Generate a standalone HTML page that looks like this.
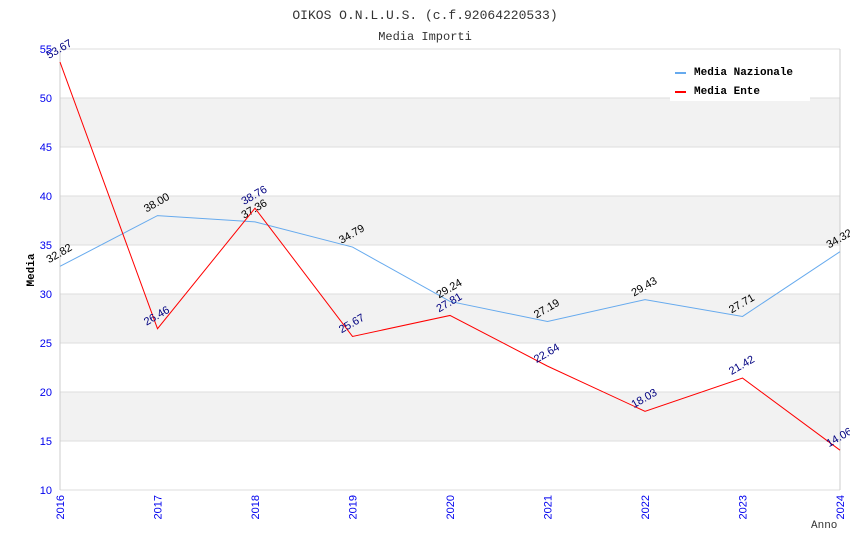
<!DOCTYPE html>
<html><head><meta charset="utf-8"><style>body{margin:0;background:#fff}svg{display:block}</style></head>
<body>
<svg id="c" width="850" height="550" xmlns="http://www.w3.org/2000/svg">
<text x="425" y="19" text-anchor="middle" font-family="Liberation Mono, monospace" font-size="13" fill="#333">OIKOS O.N.L.U.S. (c.f.92064220533)</text>
<text x="425" y="40" text-anchor="middle" font-family="Liberation Mono, monospace" font-size="12" fill="#333">Media Importi</text>
<g id="grid"></g>
<g id="axes"></g>
<g id="series"></g>
<g>
<rect x="670" y="59" width="140" height="42" fill="#fff"/>
<rect x="675" y="72" width="11" height="2" fill="#66aaee"/>
<text x="694" y="75" font-family="Liberation Mono, monospace" font-weight="bold" font-size="11">Media Nazionale</text>
<rect x="675" y="91" width="11" height="2" fill="#ff0000"/>
<text x="694" y="94" font-family="Liberation Mono, monospace" font-weight="bold" font-size="11">Media Ente</text>
</g>
<text x="34" y="270" transform="rotate(-90 34 270)" text-anchor="middle" font-family="Liberation Mono, monospace" font-weight="bold" font-size="11">Media</text>
<text x="811" y="528" font-family="Liberation Mono, monospace" font-size="11" fill="#333">Anno</text>
</svg>
<script>
const years=[2016,2017,2018,2019,2020,2021,2022,2023,2024];
const nazionale=[32.82,38.00,37.36,34.79,29.24,27.19,29.43,27.71,34.32];
const ente=[53.67,26.46,38.76,25.67,27.81,22.64,18.03,21.42,14.06];
const yTicks=[10,15,20,25,30,35,40,45,50,55];
const L=60,R=840,T=49,B=490,ymin=10,ymax=55;
const NS='http://www.w3.org/2000/svg';
const X=i=>L+(R-L)*i/(years.length-1);
const Y=v=>B-(v-ymin)/(ymax-ymin)*(B-T);
function mk(p,tag,a){const e=document.createElementNS(NS,tag);for(const k in a)e.setAttribute(k,a[k]);p.appendChild(e);return e;}
const g=document.getElementById('grid'),ax=document.getElementById('axes'),s=document.getElementById('series');
for(let i=0;i<yTicks.length-1;i++){
 if(i%2===1){const r=mk(g,'rect',{x:L,y:Y(yTicks[i+1]),width:R-L,height:Y(yTicks[i])-Y(yTicks[i+1]),fill:'#f2f2f2'});
 
 }
}
yTicks.forEach(v=>{
 const l=mk(g,'line',{x1:L,x2:R,y1:Y(v),y2:Y(v),stroke:'#dddddd'});
 
 
 const t=mk(ax,'text',{x:L-8,y:Y(v)+4,'text-anchor':'end','font-family':'Liberation Sans, sans-serif','font-size':'11',fill:'#0000ee'});
 t.textContent=v;
 
 
});
mk(ax,'line',{x1:L,x2:L,y1:T,y2:B,stroke:'#ccc'});
mk(ax,'line',{x1:R,x2:R,y1:T,y2:B,stroke:'#ccc'});
years.forEach((y,i)=>{
 const t=mk(ax,'text',{x:X(i)+4,y:B+5,transform:`rotate(-90 ${X(i)+4} ${B+5})`,'text-anchor':'end','font-family':'Liberation Sans, sans-serif','font-size':'11',fill:'#0000ee'});
 t.textContent=y;
 
 
});
function series(d,col,lc,name){
 const p=mk(s,'polyline',{points:d.map((v,i)=>X(i)+','+Y(v)).join(' '),fill:'none',stroke:col,'stroke-width':1});
 
 
 d.forEach((v,i)=>{
  const x=X(i)-11,y=Y(v)-3;
  const t=mk(s,'text',{x:x,y:y,transform:`rotate(-30 ${x} ${y})`,'font-family':'Liberation Sans, sans-serif','font-size':'11',fill:lc});
  t.textContent=v.toFixed(2);
  
  
 });
}
series(nazionale,'#66aaee','#000','nazionale');
series(ente,'#ff0000','#000080','ente');
</script>
</body></html>
